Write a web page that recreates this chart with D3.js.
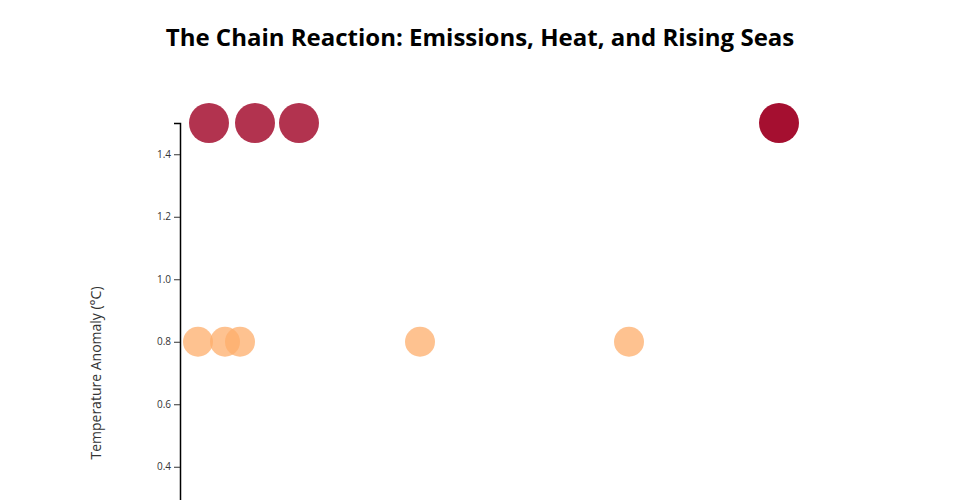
<!DOCTYPE html>
<html><head><meta charset="utf-8">
<script src="https://cdn.jsdelivr.net/npm/d3@7"></script>
<style>
body{margin:0;background:#fff;font-family:"Open Sans",sans-serif;}
svg{display:block;}
.tick text{font-family:"Open Sans",sans-serif;font-size:10px;fill:#333;}
</style></head>
<body><svg id="c" width="960" height="500"></svg>
<script>
const title = "The Chain Reaction: Emissions, Heat, and Rising Seas";
const yLabel = "Temperature Anomaly (°C)";
const yTicks = [0.4, 0.6, 0.8, 1.0, 1.2, 1.4];
// x: CO2 concentration (ppm), y: temperature anomaly
const warmCO2 = [303.6, 309, 312, 348, 389.8];
const warmTemp = [0.8, 0.8, 0.8, 0.8, 0.8];
const hotCO2 = [305.8, 315, 323.8, 419.8];
const hotTemp = [1.5, 1.5, 1.5, 1.5];
const hotOpacity = [0.85, 0.85, 0.85, 1];

const svg = d3.select("#c");
const margin = {top:123, left:180};
const x = d3.scaleLinear().domain([300, 420]).range([180, 780]);
const y = d3.scaleLinear().domain([-0.1, 1.5]).range([623, 123]);

svg.append("text").attr("x", 480).attr("y", 46).attr("text-anchor","middle")
  .style("font-family","'Open Sans',sans-serif").style("font-weight","700").style("font-size","24px")
  .attr("fill","#000").text(title);

const ax = svg.append("g").attr("transform", `translate(${margin.left},0)`)
  .call(d3.axisLeft(y).tickValues(yTicks).tickFormat(d3.format(".1f")));
ax.select(".domain").attr("stroke","#000").attr("stroke-width",1.5);
ax.selectAll(".tick line").attr("stroke","#333");

svg.append("text").attr("transform","translate(101,373) rotate(-90)")
  .attr("text-anchor","middle").style("font-size","14px").attr("fill","#333")
  .style("font-family","'Open Sans',sans-serif").text(yLabel);

svg.append("g").selectAll("circle").data(warmCO2).join("circle")
  .attr("cx", d => x(d)).attr("cy", (d,i) => y(warmTemp[i])).attr("r", 15)
  .attr("fill", "#fdae6b").attr("fill-opacity", 0.75);

svg.append("g").selectAll("circle").data(hotCO2).join("circle")
  .attr("cx", d => x(d)).attr("cy", (d,i) => y(hotTemp[i])).attr("r", 20)
  .attr("fill", "#a50f30").attr("fill-opacity", (d,i) => hotOpacity[i]);
</script></body></html>
